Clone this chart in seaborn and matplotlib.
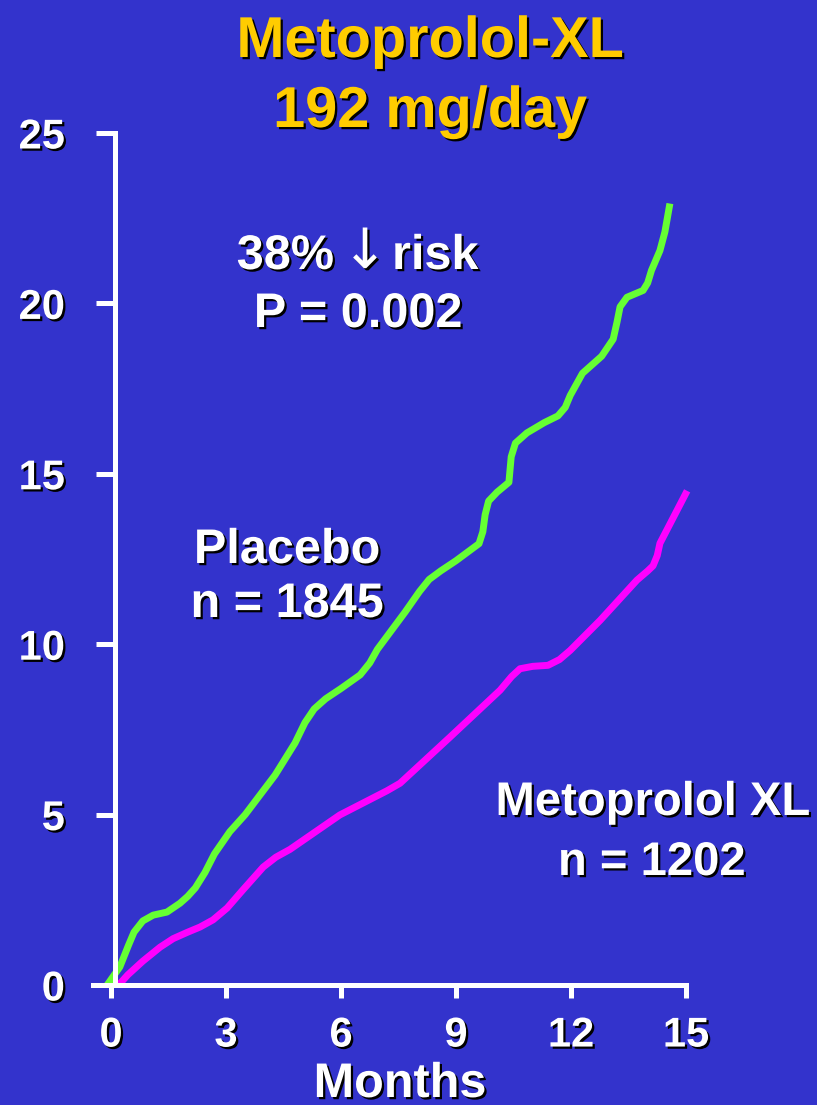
import numpy as np
import pandas as pd
import matplotlib
matplotlib.use("Agg")
import matplotlib.pyplot as plt
import matplotlib.patheffects as pe
import seaborn as sns

# ---- data ----
placebo_month = [-0.1, 0.23, 0.45, 0.6, 0.83, 1.1, 1.46, 1.8, 2.0, 2.2, 2.45, 2.7, 3.1,
                 3.5, 4.28, 4.8, 5.06, 5.3, 5.6, 6.0, 6.5, 6.75, 6.95, 7.67, 8.05, 8.3,
                 8.6, 9.0, 9.42, 9.6, 9.7, 9.76, 9.85, 10.07, 10.38, 10.44, 10.55, 10.85,
                 11.3, 11.66, 11.85, 11.98, 12.3, 12.8, 13.1, 13.2, 13.28, 13.46, 13.88,
                 14.0, 14.1, 14.32, 14.45, 14.58]
placebo_rate = [0.0, 0.53, 1.15, 1.55, 1.88, 2.05, 2.14, 2.4, 2.6, 2.85, 3.3, 3.85, 4.5,
                5.0, 6.16, 7.1, 7.7, 8.1, 8.4, 8.7, 9.1, 9.45, 9.85, 10.94, 11.55, 11.9,
                12.15, 12.45, 12.8, 12.95, 13.3, 13.8, 14.2, 14.46, 14.75, 15.5, 15.9,
                16.2, 16.5, 16.7, 16.95, 17.3, 17.95, 18.45, 18.95, 19.45, 19.9, 20.18,
                20.38, 20.6, 20.97, 21.55, 22.1, 22.93]
metoprolol_month = [0.2, 0.44, 0.83, 1.28, 1.62, 2.0, 2.32, 2.66, 3.03, 3.44, 3.97, 4.3,
                    4.67, 5.97, 7.2, 7.54, 8.84, 10.15, 10.45, 10.67, 11.0, 11.4, 11.7,
                    11.98, 12.76, 13.72, 14.0, 14.14, 14.25, 14.32, 15.03]
metoprolol_rate = [0.0, 0.3, 0.7, 1.11, 1.36, 1.55, 1.70, 1.91, 2.26, 2.79, 3.46, 3.75,
                   3.98, 4.99, 5.7, 5.92, 7.27, 8.65, 9.05, 9.28, 9.35, 9.38, 9.55, 9.82,
                   10.7, 11.88, 12.15, 12.3, 12.6, 12.96, 14.5]
groups = ["Placebo", "Metoprolol XL"]
x_ticks = [0, 3, 6, 9, 12, 15]
y_ticks = [0, 5, 10, 15, 20, 25]

df = pd.concat([
    pd.DataFrame({"month": placebo_month, "rate": placebo_rate, "group": groups[0]}),
    pd.DataFrame({"month": metoprolol_month, "rate": metoprolol_rate, "group": groups[1]}),
], ignore_index=True)

BG = "#3333CC"
sns.set_theme(style="white")
plt.rcParams["font.family"] = ["Liberation Sans", "DejaVu Sans"]
plt.rcParams["font.weight"] = "bold"

W, H = 817, 1105
fig = plt.figure(figsize=(W / 100, H / 100), dpi=100, facecolor=BG)
ax = fig.add_axes([93 / W, 120 / H, (686 - 93) / W, (985 - 133) / H])
ax.set_facecolor(BG)

sns.lineplot(data=df, x="month", y="rate", hue="group", sort=False,
             palette={"Placebo": "#66FF33", "Metoprolol XL": "#FF00FF"},
             linewidth=5.0, legend=False, ax=ax, clip_on=False, zorder=2)
for ln in ax.lines:
    ln.set_solid_capstyle("butt")
    ln.set_solid_joinstyle("round")

ax.set_xlim(-0.47, 15.0)
ax.set_ylim(0, 25)
ax.set_xticks(x_ticks)
ax.set_yticks(y_ticks)
ax.set_xlabel("")
ax.set_ylabel("")

for s in ["top", "right"]:
    ax.spines[s].set_visible(False)
ax.spines["left"].set_position(("data", 0.1))
for s in ["left", "bottom"]:
    ax.spines[s].set_color("white")
    ax.spines[s].set_linewidth(3.6)
    ax.spines[s].set_zorder(3)
    ax.spines[s].set_capstyle("projecting")

shadow = [pe.withSimplePatchShadow(offset=(1.6, -1.6), shadow_rgbFace="black", alpha=1.0)]

ax.tick_params(axis="y", direction="out", length=14, width=3.6, color="white",
               pad=22, labelsize=30, labelcolor="white", left=True)
ax.tick_params(axis="x", direction="out", length=9, width=3.6, color="white",
               pad=13, labelsize=30, labelcolor="white", bottom=True)
for lab in ax.get_xticklabels() + ax.get_yticklabels():
    lab.set_fontweight("bold")
    lab.set_path_effects(shadow)


def ftext(x, y, s, size, color="white", ha="center", **kw):
    kw.setdefault("fontweight", "bold")
    fig.text(x / W, 1 - y / H, s, ha=ha, va="baseline", fontsize=size,
             color=color, path_effects=shadow, **kw)


ftext(430, 57, "Metoprolol-XL", 41.5, "#FFCC00")
ftext(430, 127, "192 mg/day", 41.5, "#FFCC00")
ftext(334, 269, "38%", 35, ha="right")
ftext(365, 268, "\u2193", 40, family=["DejaVu Sans"], fontweight="normal")
ftext(392, 269, "risk", 35, ha="left")
ftext(358, 327, "P = 0.002", 35)
ftext(287, 563, "Placebo", 35)
ftext(287, 617, "n = 1845", 35)
ftext(653, 815, "Metoprolol XL", 34)
ftext(652, 875, "n = 1202", 34)
ftext(400, 1097, "Months", 35)

fig.savefig("out.png", dpi=100, facecolor=BG)
